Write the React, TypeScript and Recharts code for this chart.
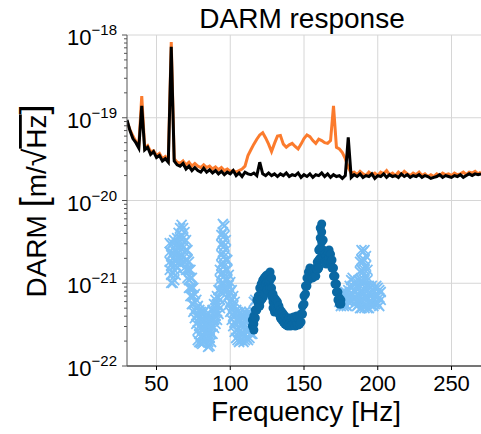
import { CartesianGrid, ComposedChart, Line, Scatter, XAxis, YAxis } from "recharts";

// spectra sampled every 2 Hz, values in units of 1e-20 m/sqrt(Hz)
const freq = [
  30, 32, 34, 36, 38, 40, 42, 44, 46, 48, 50, 52, 54, 56, 58, 60, 62, 64, 66, 68,
  70, 72, 74, 76, 78, 80, 82, 84, 86, 88, 90, 92, 94, 96, 98, 100, 102, 104, 106, 108,
  110, 112, 114, 116, 118, 120, 122, 124, 126, 128, 130, 132, 134, 136, 138, 140, 142, 144, 146, 148,
  150, 152, 154, 156, 158, 160, 162, 164, 166, 168, 170, 172, 174, 176, 178, 180, 182, 184, 186, 188,
  190, 192, 194, 196, 198, 200, 202, 204, 206, 208, 210, 212, 214, 216, 218, 220, 222, 224, 226, 228,
  230, 232, 234, 236, 238, 240, 242, 244, 246, 248, 250, 252, 254, 256, 258, 260, 262, 264, 266, 268,
  270,
];

const quietAsd = [
  9.4, 7.0, 5.6, 5.0, 4.3, 13.9, 4.1, 4.4, 3.6, 3.9,
  3.3, 3.5, 3.0, 3.2, 2.9, 72, 3.0, 2.7, 2.6, 2.8,
  2.4, 2.6, 2.3, 2.5, 2.3, 2.2, 2.45, 2.2, 2.35, 2.15,
  2.3, 2.1, 2.25, 2.05, 2.2, 2.1, 2.3, 2.0, 2.15, 1.95,
  2.2, 2.1, 2.05, 2.15, 2.0, 2.9, 2.1, 2.0, 2.15, 2.0,
  2.1, 1.95, 2.1, 2.0, 2.15, 1.95, 2.05, 2.0, 2.15, 1.9,
  2.05, 1.95, 2.1, 1.9, 2.05, 2.0, 2.15, 1.95, 2.1, 1.9,
  2.05, 1.95, 2.0, 1.85, 2.0, 5.8, 1.9, 2.05, 1.95, 2.1,
  1.9, 2.0, 1.95, 2.1, 1.85, 2.0, 1.95, 2.1, 1.9, 2.05,
  1.95, 2.0, 1.9, 2.1, 1.95, 2.05, 1.9, 2.0, 1.95, 2.05,
  1.9, 2.0, 1.95, 1.85, 1.9, 1.95, 2.05, 1.9, 2.0, 1.95,
  1.9, 2.0, 1.95, 2.05, 1.9, 2.0, 2.1, 2.0, 2.1, 2.05,
  2.1,
];

const loudAsd = [
  9.0, 7.2, 6.0, 5.2, 4.6, 18.3, 4.3, 4.6, 3.9, 4.0,
  3.5, 3.7, 3.2, 3.4, 3.1, 82, 3.2, 2.9, 2.8, 3.0,
  2.7, 2.9, 2.6, 2.8, 2.6, 2.5, 2.7, 2.5, 2.6, 2.4,
  2.55, 2.35, 2.5, 2.3, 2.4, 2.25, 2.3, 2.2, 2.3, 2.4,
  2.6, 3.5, 4.1, 4.8, 5.5, 6.2, 6.6, 5.7, 4.8, 3.9,
  4.9, 6.0, 6.1, 4.8, 4.4, 4.7, 4.9, 4.5, 4.2, 4.8,
  5.6, 6.2, 5.9, 5.3, 4.9, 5.5, 5.3, 5.0, 4.9, 5.3,
  13.9, 4.4, 4.2, 3.8, 3.2, 2.5, 2.15, 2.2, 2.05, 2.25,
  2.1, 2.0, 2.2, 2.05, 2.15, 2.0, 2.2, 2.1, 2.3, 2.05,
  2.15, 2.0, 2.2, 2.05, 2.25, 2.1, 2.0, 2.15, 2.05, 2.2,
  2.0, 2.1, 1.95, 2.05, 1.95, 2.1, 2.0, 2.15, 2.05, 2.1,
  2.0, 2.15, 2.05, 2.1, 2.2, 2.05, 2.2, 2.15, 2.25, 2.1,
  2.2,
];

// response estimates: [frequency, values in units of 1e-22 ...]
const lightCols = [
  [59, 30.6, 23.9, 18.1, 14.5], [60, 29.0, 21.9, 16.6, 12.6, 10.1], [61, 30.6, 23.2, 17.6, 13.3, 10.1],
  [62, 33.3, 25.2, 19.1, 14.5, 10.9], [63, 29.0, 21.9, 16.6, 12.6], [64, 35.2, 26.7, 20.2, 15.3],
  [65, 40.5, 30.6, 23.2, 17.6], [66, 46.5, 35.2, 26.7, 20.2], [67, 50.6, 38.3, 29.0, 21.9, 17.6],
  [68, 46.5, 35.2, 26.7, 20.2], [69, 41.6, 31.5, 23.9, 18.1, 15.3], [70, 33.3, 25.2, 19.1, 14.5],
  [71, 25.2, 19.1, 14.5, 11.6], [72, 18.1, 14.5, 10.9, 8.77], [73, 14.5, 11.6, 8.77, 7.01],
  [74, 11.6, 8.77, 7.01, 5.61], [75, 8.77, 7.01, 5.61, 4.5], [76, 7.41, 5.94, 4.75, 3.8],
  [77, 6.28, 5.02, 4.02, 3.22], [78, 5.31, 4.25, 3.4, 2.72, 2.06], [79, 4.75, 3.8, 3.04, 2.44, 1.95],
  [80, 4.5, 3.6, 2.88, 2.3, 1.9], [81, 4.25, 3.4, 2.72, 2.18, 1.85], [82, 4.5, 3.6, 2.88, 2.3, 1.95],
  [83, 4.75, 3.8, 3.04, 2.44], [84, 4.25, 3.4, 2.72, 2.18], [85, 3.8, 3.04, 2.44, 1.95, 1.7],
  [86, 3.4, 2.72, 2.18, 1.75], [87, 3.8, 3.04, 2.44, 1.95], [88, 4.75, 3.8, 3.04, 2.44],
  [89, 5.61, 4.5, 3.6, 2.88], [90, 6.28, 5.02, 4.02, 3.22], [91, 7.01, 5.61, 4.5, 3.6],
  [92, 8.28, 6.64, 5.31, 4.25], [93, 14.5, 10.9, 8.28, 6.28, 5.02],
  [94, 38.3, 29.0, 21.9, 16.6, 12.6, 9.5, 7.84], [95, 52.0, 41.6, 31.5, 23.9, 18.1, 13.7, 10.35, 8.28],
  [96, 49.2, 37.3, 28.2, 21.3, 16.2, 12.2, 9.27], [97, 33.3, 25.2, 19.1, 14.5, 10.9, 8.28],
  [98, 19.1, 14.5, 10.9, 8.28, 6.64], [99, 12.6, 9.5, 7.2, 5.46], [100, 10.35, 7.84, 5.94, 4.5],
  [101, 8.28, 6.28, 4.75, 3.6], [102, 7.01, 5.31, 4.02, 3.04], [103, 5.94, 4.5, 3.4, 2.58],
  [104, 4.75, 3.6, 2.72, 2.18], [105, 4.5, 3.6, 2.72, 2.06], [106, 4.25, 3.4, 2.58, 1.95],
  [107, 4.5, 3.6, 2.72, 2.06], [108, 4.25, 3.4, 2.58, 2.06], [109, 4.02, 3.22, 2.44, 1.95],
  [110, 4.5, 3.6, 2.72, 2.06], [111, 4.25, 3.4, 2.72, 2.18], [112, 4.02, 3.22, 2.58, 2.06],
  [113, 4.5, 3.6, 2.72, 2.18], [114, 4.02, 3.22, 2.44], [115, 3.8, 3.04, 2.44],
  [116, 5.94, 4.5], [117, 6.28], [124, 7.84], [125, 8.28, 6.64], [126, 8.77, 7.01], [127, 7.41],
  [174, 7.01, 5.94], [175, 7.41, 6.28, 5.31], [176, 7.84, 6.64, 5.61], [177, 7.41, 6.28, 5.31],
  [178, 7.84, 6.64, 5.61], [179, 7.6, 6.28, 5.31], [180, 8.28, 7.01, 5.94], [181, 9.27, 7.41, 6.28],
  [182, 10.9, 8.77, 7.01, 5.94], [183, 11.6, 9.27, 7.41], [184, 10.35, 8.28, 6.64, 5.61],
  [185, 9.8, 7.84, 6.64], [186, 9.27, 7.41, 6.28, 5.31], [187, 10.9, 8.77, 7.01, 5.61],
  [188, 18.1, 13.7, 10.35, 7.84, 6.28, 5.02], [189, 25.2, 19.1, 14.5, 10.9, 8.28, 6.28, 5.02],
  [190, 23.9, 18.1, 13.7, 10.35, 7.84, 5.94], [191, 25.2, 19.1, 14.5, 10.9, 8.28, 6.28, 5.02],
  [192, 21.3, 16.2, 12.2, 9.27, 7.01, 5.31], [193, 14.5, 10.9, 8.28, 6.28, 5.02],
  [194, 9.27, 7.41, 5.94, 5.02], [195, 8.77, 7.01, 5.61], [196, 9.27, 7.41, 5.94],
  [197, 8.28, 6.64, 5.31], [198, 8.77, 7.01, 5.61], [199, 9.27, 7.41, 5.94],
  [200, 8.77, 7.01, 5.61], [201, 8.28, 6.64, 5.31], [202, 7.84, 6.28],
];

const darkCols = [
  [115, 3.6, 3.04], [116, 4.02, 3.22, 2.72], [117, 4.75, 3.8], [118, 6.28, 4.75], [119, 7.01, 5.61],
  [120, 8.77, 6.64, 5.31], [121, 9.8, 7.84, 6.28], [122, 10.9, 8.28, 6.64], [123, 11.6, 9.27, 7.41],
  [124, 12.2, 9.8], [125, 12.6, 10.35, 8.28], [126, 12.9, 10.35], [127, 13.7, 10.9, 8.77],
  [128, 11.6, 8.77, 7.01], [129, 7.41, 5.94, 5.02], [130, 6.64, 5.31, 4.5], [131, 6.28, 5.02],
  [132, 5.94, 4.75], [133, 5.31, 4.25], [134, 4.75, 3.8], [135, 4.5, 3.6], [136, 4.25, 3.4],
  [137, 4.02, 3.22], [138, 3.8, 3.13], [139, 3.6, 3.04], [140, 3.8, 3.22], [141, 3.7, 3.04],
  [142, 3.8, 3.13], [143, 3.91, 3.22], [144, 3.8, 3.04], [145, 4.02, 3.22], [146, 3.8, 3.13],
  [147, 4.02, 3.22], [148, 4.25, 3.4], [149, 5.31, 4.25], [150, 7.01, 5.61], [151, 9.27, 7.41],
  [152, 11.6, 9.27], [153, 13.7, 10.9], [154, 15.3, 12.2], [155, 14.5, 11.6], [156, 13.7, 11.6],
  [157, 14.5, 12.2], [158, 15.3, 12.2], [159, 18.1, 14.5], [160, 25.2, 19.1, 15.3],
  [161, 46.5, 35.2, 26.7, 20.2], [162, 52.0, 41.6, 31.5, 23.9], [163, 33.3, 25.2, 20.2],
  [164, 22.5, 18.1], [165, 21.3, 17.1], [166, 23.9, 19.1], [167, 25.2, 20.2], [168, 22.5, 18.1],
  [169, 19.1, 15.3], [170, 15.3, 12.2], [171, 12.2, 9.8], [172, 9.8, 7.84], [173, 7.84, 6.28],
  [174, 6.64, 5.61], [175, 6.28, 5.61],
];

const xTicks = [50, 100, 150, 200, 250];
const decades = [1e-22, 1e-21, 1e-20, 1e-19, 1e-18];
const yTicks = [
  1e-22, 2e-22, 3e-22, 4e-22, 5e-22, 6e-22, 7e-22, 8e-22, 9e-22,
  1e-21, 2e-21, 3e-21, 4e-21, 5e-21, 6e-21, 7e-21, 8e-21, 9e-21,
  1e-20, 2e-20, 3e-20, 4e-20, 5e-20, 6e-20, 7e-20, 8e-20, 9e-20,
  1e-19, 2e-19, 3e-19, 4e-19, 5e-19, 6e-19, 7e-19, 8e-19, 9e-19,
  1e-18,
];

const spectra = freq.map((f, i) => ({ f, quiet: quietAsd[i] * 1e-20, loud: loudAsd[i] * 1e-20 }));
const toPoints = (cols: number[][]) =>
  cols.flatMap(([f, ...vals]) => vals.map((v) => ({ f, v: v * 1e-22 })));
const lightPts = toPoints(lightCols);
const darkPts = toPoints(darkCols);

function YTick({ x, y, payload }: any) {
  const lg = Math.log10(payload.value);
  const e = Math.round(lg);
  const major = Math.abs(lg - e) < 1e-6;
  return (
    <g>
      <line x1={x - (major ? 5 : 3)} x2={x} y1={y} y2={y} stroke="#555" />
      {major && (
        <text x={x - 10} y={y + 10} textAnchor="end" fontSize={22} fill="#000">
          10
          <tspan dy={-10} fontSize={15}>{"\u2212" + Math.abs(e)}</tspan>
        </text>
      )}
    </g>
  );
}

function XTick({ x, y, payload }: any) {
  return (
    <g>
      <line x1={x} x2={x} y1={y} y2={y + 4} stroke="#000" />
      <text x={x} y={y + 25} textAnchor="middle" fontSize={22} fill="#000">
        {payload.value}
      </text>
    </g>
  );
}

const Cross = ({ cx, cy }: any) => (
  <path
    d={`M${cx - 5},${cy - 5}L${cx + 5},${cy + 5}M${cx - 5},${cy + 5}L${cx + 5},${cy - 5}`}
    stroke="#7dc0f6"
    strokeWidth={1.8}
    fill="none"
  />
);

const Dot = ({ cx, cy }: any) => <circle cx={cx} cy={cy} r={4.5} fill="#0a68a3" />;

export default function App() {
  return (
    <div
      style={{
        position: "absolute",
        left: 0,
        top: 0,
        width: 481,
        height: 434,
        background: "#fff",
        fontFamily: "'Liberation Sans', Arial, sans-serif",
      }}
    >
      <ComposedChart width={481} height={434} margin={{ top: 35, right: 0, bottom: 0, left: 0 }}>
        <CartesianGrid stroke="#d6d6d6" verticalValues={xTicks} horizontalValues={decades} />
        <XAxis
          type="number"
          dataKey="f"
          domain={[30, 270]}
          ticks={xTicks}
          interval={0}
          allowDataOverflow
          height={68}
          tickSize={0}
          tickMargin={0}
          tick={<XTick />}
          axisLine={{ stroke: "#000" }}
        />
        <YAxis
          scale="log"
          domain={[1e-22, 1e-18]}
          ticks={yTicks}
          interval={0}
          allowDataOverflow
          width={127}
          tickSize={0}
          tickMargin={0}
          tick={<YTick />}
          axisLine={{ stroke: "#555" }}
        />
        <Scatter data={lightPts} dataKey="v" shape={<Cross />} isAnimationActive={false} />
        <Scatter data={darkPts} dataKey="v" shape={<Dot />} isAnimationActive={false} />
        <Line
          data={spectra}
          dataKey="loud"
          stroke="#fb7b2d"
          strokeWidth={3}
          dot={false}
          activeDot={false}
          isAnimationActive={false}
        />
        <Line
          data={spectra}
          dataKey="quiet"
          stroke="#000"
          strokeWidth={3}
          dot={false}
          activeDot={false}
          isAnimationActive={false}
        />
        <text x={302} y={28} textAnchor="middle" fontSize={28} fill="#000">
          DARM response
        </text>
        <text x={306} y={421} textAnchor="middle" fontSize={28} fill="#000">
          Frequency [Hz]
        </text>
        <text transform="translate(46,201) rotate(-90)" textAnchor="middle" fontSize={28} fill="#000">
          DARM <tspan fontSize={36}>[</tspan>m/
          <tspan fontSize={32}>{"\u221A"}</tspan>
          <tspan style={{ textDecoration: "overline" }}>Hz</tspan>
          <tspan fontSize={36}>]</tspan>
        </text>
      </ComposedChart>
    </div>
  );
}
